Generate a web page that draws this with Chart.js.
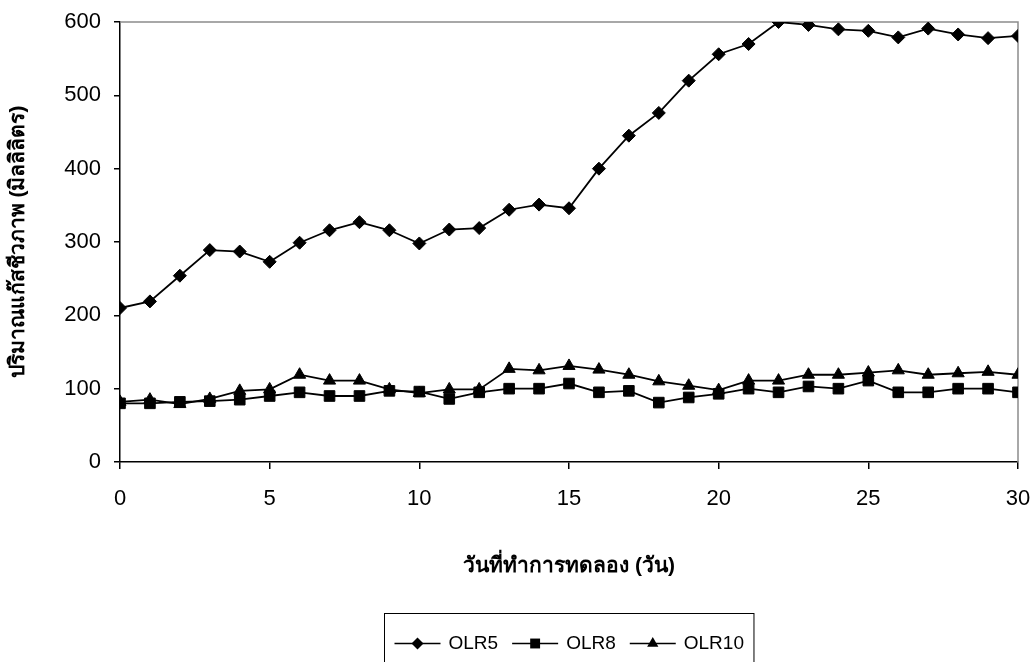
<!DOCTYPE html>
<html lang="th">
<head>
<meta charset="utf-8">
<title>ปริมาณแก๊สชีวภาพ</title>
<script src="https://cdn.jsdelivr.net/npm/chart.js@4/dist/chart.umd.min.js"></script>
<style>
  html, body { margin: 0; padding: 0; background: #fff; }
  #wrap { width: 1035px; height: 662px; }
</style>
</head>
<body>
<div id="wrap"><canvas id="chart" width="1035" height="662"></canvas></div>
<script>
// Experiment day (วัน)
const days = [0, 1, 2, 3, 4, 5, 6, 7, 8, 9, 10, 11, 12, 13, 14, 15,
              16, 17, 18, 19, 20, 21, 22, 23, 24, 25, 26, 27, 28, 29, 30];

// Biogas volume (มิลลิลิตร) per organic loading rate
const olr5 = [210, 219, 254, 289, 287, 273, 299, 316, 327, 316, 298, 317, 319, 344, 351, 346,
              400, 445, 476, 520, 556, 570, 600, 596, 590, 588, 579, 591, 583, 578, 581];
const olr8 = [80, 80, 82, 83, 85, 90, 95, 90, 90, 97, 96, 86, 95, 100, 100, 107,
              95, 97, 81, 88, 93, 100, 95, 103, 100, 111, 95, 95, 100, 100, 95];
const olr10 = [82, 85, 79, 86, 97, 99, 119, 111, 111, 99, 94, 99, 99, 127, 125, 131,
               126, 119, 110, 104, 98, 111, 111, 119, 119, 122, 125, 119, 121, 123, 119];

const seriesNames = ['OLR5', 'OLR8', 'OLR10'];
const xTicks = [0, 5, 10, 15, 20, 25, 30];
const yTicks = [0, 100, 200, 300, 400, 500, 600];
const xTitle = 'วันที่ทำการทดลอง (วัน)';
const yTitle = 'ปริมาณแก๊สชีวภาพ (มิลลิลิตร)';

const FONT = 'Arial, "Liberation Sans", "Noto Sans", sans-serif';

function pairs(values) {
  return days.map((d, i) => ({ x: d, y: values[i] }));
}

function series(label, values, style, radius) {
  return {
    label,
    data: pairs(values),
    borderColor: '#000',
    backgroundColor: '#000',
    borderWidth: 1.8,
    pointStyle: style,
    pointRadius: radius,
    pointHoverRadius: radius,
    pointBackgroundColor: '#000',
    pointBorderColor: '#000',
    pointBorderWidth: 1,
    tension: 0,
    fill: false
  };
}

// Grey frame on the top and right of the plot area
const frame = {
  id: 'frame',
  beforeDatasetsDraw(chart) {
    const { ctx, chartArea: a } = chart;
    ctx.save();
    ctx.strokeStyle = '#8c8c8c';
    ctx.lineWidth = 1.5;
    ctx.beginPath();
    ctx.moveTo(a.left, a.top);
    ctx.lineTo(a.right, a.top);
    ctx.lineTo(a.right, a.bottom);
    ctx.stroke();
    ctx.restore();
  }
};

// Boxed legend under the axis title: line sample with marker, then name
function marker(ctx, style, r, x, y) {
  ctx.beginPath();
  if (style === 'rectRot') {
    ctx.moveTo(x, y - r); ctx.lineTo(x + r, y); ctx.lineTo(x, y + r); ctx.lineTo(x - r, y);
  } else if (style === 'rect') {
    const s = r * Math.SQRT1_2;
    ctx.rect(x - s, y - s, 2 * s, 2 * s);
  } else {
    const h = r * 1.5, w = r * Math.sqrt(3) / 2;
    ctx.moveTo(x, y - r); ctx.lineTo(x + w, y - r + h); ctx.lineTo(x - w, y - r + h);
  }
  ctx.closePath();
  ctx.fill();
}

const boxLegend = {
  id: 'boxLegend',
  afterDraw(chart) {
    const { ctx, chartArea: a } = chart;
    const sets = chart.data.datasets;
    const lineW = 46, gapText = 8, gapItem = 14, padX = 10;
    ctx.save();
    ctx.font = '19px ' + FONT;
    const widths = sets.map(s => ctx.measureText(s.label).width);
    let total = padX * 2;
    widths.forEach((w, i) => { total += lineW + gapText + w + (i < widths.length - 1 ? gapItem : 0); });
    const cx = (a.left + a.right) / 2;
    const left = Math.round(cx - total / 2) + 0.5;
    const top = Math.round(a.bottom + 151) + 0.5;
    const midY = top + 30;
    ctx.strokeStyle = '#000';
    ctx.lineWidth = 1;
    ctx.strokeRect(left, top, total, 80);
    let x = left + padX;
    sets.forEach((s, i) => {
      ctx.strokeStyle = '#000';
      ctx.lineWidth = 1.6;
      ctx.beginPath();
      ctx.moveTo(x, midY);
      ctx.lineTo(x + lineW, midY);
      ctx.stroke();
      ctx.fillStyle = '#000';
      marker(ctx, s.pointStyle, s.pointRadius - 0.5, x + lineW / 2, midY);
      ctx.textBaseline = 'middle';
      ctx.textAlign = 'left';
      ctx.fillText(s.label, x + lineW + gapText, midY);
      x += lineW + gapText + widths[i] + gapItem;
    });
    ctx.restore();
  }
};

new Chart(document.getElementById('chart'), {
  type: 'line',
  data: {
    datasets: [
      series(seriesNames[0], olr5, 'rectRot', 6.5),
      series(seriesNames[1], olr8, 'rect', 7.5),
      series(seriesNames[2], olr10, 'triangle', 7)
    ]
  },
  options: {
    responsive: false,
    animation: false,
    devicePixelRatio: 1,
    layout: { padding: { top: 22, right: 17, bottom: 0, left: 0 } },
    plugins: {
      legend: { display: false },
      tooltip: { enabled: false }
    },
    scales: {
      x: {
        type: 'linear',
        min: 0,
        max: 30,
        afterFit(s) { s.height = 200; s.paddingLeft = 0; s.paddingRight = 0; },
        afterBuildTicks(s) { s.ticks = xTicks.map(v => ({ value: v })); },
        border: { display: true, color: '#000', width: 1.5 },
        grid: { drawOnChartArea: false, drawTicks: true, tickLength: 7, color: '#000', lineWidth: 1.5 },
        ticks: { color: '#000', font: { family: FONT, size: 22 }, padding: 17, maxRotation: 0 },
        title: {
          display: true,
          text: xTitle,
          color: '#000',
          font: { family: FONT, size: 21, weight: 'bold' },
          padding: { top: 0, bottom: 83 }
        }
      },
      y: {
        type: 'linear',
        min: 0,
        max: 600,
        afterFit(s) { s.width = 120; s.paddingTop = 0; s.paddingBottom = 0; },
        afterBuildTicks(s) { s.ticks = yTicks.map(v => ({ value: v })); },
        border: { display: true, color: '#000', width: 1.5 },
        grid: { drawOnChartArea: false, drawTicks: true, tickLength: 6, color: '#000', lineWidth: 1.5 },
        ticks: { color: '#000', font: { family: FONT, size: 22 }, padding: 13 },
        title: {
          display: true,
          text: yTitle,
          color: '#000',
          font: { family: FONT, size: 21, weight: 'bold' },
          padding: { top: 6, bottom: 0 }
        }
      }
    }
  },
  plugins: [frame, boxLegend]
});
</script>
</body>
</html>
